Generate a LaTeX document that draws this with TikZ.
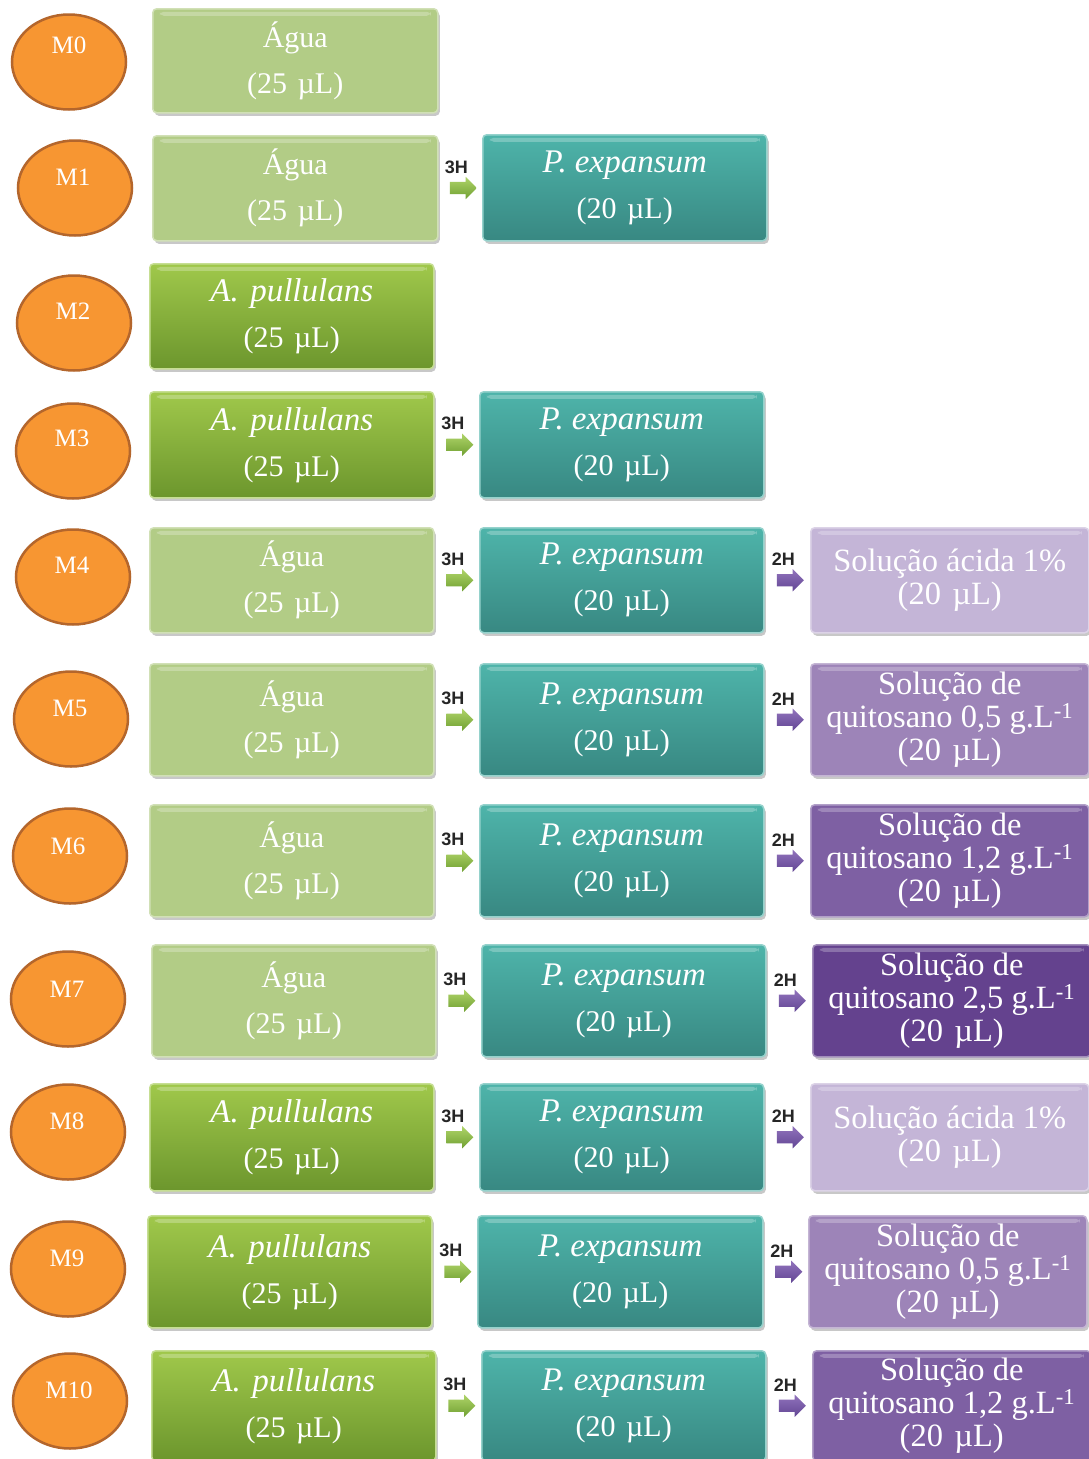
\documentclass[tikz,border=0pt]{standalone}
\usepackage{fontspec}
\setmainfont{Liberation Serif}
\setsansfont{Liberation Sans}
\usetikzlibrary{shapes.arrows,shapes.geometric,shadows,calc}
\definecolor{agua}{RGB}{178,204,134}
\definecolor{pullT}{RGB}{160,200,75}
\definecolor{pullB}{RGB}{108,150,45}
\definecolor{pexpT}{RGB}{78,180,170}
\definecolor{pexpB}{RGB}{56,136,130}
\definecolor{solA}{RGB}{196,181,215}
\definecolor{solB}{RGB}{157,132,184}
\definecolor{solC}{RGB}{126,96,163}
\definecolor{solD}{RGB}{100,66,142}
\definecolor{ellF}{RGB}{247,150,50}
\definecolor{ellD}{RGB}{180,102,44}
\definecolor{arrGT}{RGB}{175,212,105}
\definecolor{arrGB}{RGB}{112,160,50}
\definecolor{arrVT}{RGB}{145,115,188}
\definecolor{arrVB}{RGB}{98,70,148}
\tikzset{
  geo/.style n args={4}{at={(#1,#2)}, anchor=north west,
     minimum width={(#3)-(#1)}, minimum height={(#4)-(#2)}},
  box/.style={rectangle, rounded corners=4pt, inner sep=0pt, align=center,
     text=white, font=\fontsize{30}{46}\selectfont, line width=1.5pt,
     drop shadow={shadow xshift=2pt, shadow yshift=-3pt, opacity=0.3, fill=black!70},
     path picture={\fill[white,opacity=0.25]
        ([xshift=7pt,yshift=-3pt]path picture bounding box.north west) rectangle
        ([xshift=-7pt,yshift=-7pt]path picture bounding box.north east);}},
  aguabox/.style={box, fill=agua, draw=agua!60!white},
  pullbox/.style={box, top color=pullT, bottom color=pullB, draw=pullT!60!white},
  pexpbox/.style={box, top color=pexpT, bottom color=pexpB, draw=pexpT!60!white},
  solbox/.style={box, fill=#1, draw=#1!60!white, font=\fontsize{32.5}{33}\selectfont},
  ell/.style={ellipse, minimum width=114pt, minimum height=95pt, fill=ellF,
     draw=ellD, line width=2.5pt},
  etext/.style={text=white, font=\fontsize{25}{25}\selectfont, inner sep=0pt},
  arrowbase/.style={single arrow, single arrow head extend=5pt,
     single arrow head indent=0pt, minimum height=27pt, minimum width=22pt,
     inner xsep=0pt, inner ysep=6pt},
  garrow/.style={arrowbase, top color=arrGT, bottom color=arrGB,
     label={[hlab]above:3H}},
  varrow/.style={arrowbase, top color=arrVT, bottom color=arrVB,
     label={[hlab]above:2H}},
  hlab/.style={font=\sffamily\bfseries\fontsize{18}{18}\selectfont, text=black!85,
     inner sep=0pt, yshift=8pt, xshift=-4pt},
}
\newcommand{\agua}{Água\\(25\hspace{0.35em}µL)}
\newcommand{\pull}{{\fontsize{33}{46}\selectfont\itshape A.\hspace{0.35em}pullulans}\\(25\hspace{0.35em}µL)}
\newcommand{\pexp}{{\fontsize{33}{46}\selectfont\itshape P.\hspace{0.25em}expansum}\\(20\hspace{0.35em}µL)}
\newcommand{\solac}{Solução ácida 1\%\\(20\hspace{0.35em}µL)}
\newcommand{\solq}[1]{Solução de\\quitosano #1 g.L\textsuperscript{-1}\\(20\hspace{0.35em}µL)}
\begin{document}
\begin{tikzpicture}[x=1pt,y=-1pt]
\useasboundingbox (0,0) rectangle (1089,1459);
\fill[white] (0,0) rectangle (1089,1459);
% ellipses
\node[ell] (e0) at (69,62) {};   \node[etext] (t0) at (69,45) {M0};
\node[ell] (e1) at (75,188) {};  \node[etext] (t1) at (73,177) {M1};
\node[ell] (e2) at (74,323) {};  \node[etext] (t2) at (73,311) {M2};
\node[ell] (e3) at (73,451) {};  \node[etext] (t3) at (72,438) {M3};
\node[ell] (e4) at (73,577) {};  \node[etext] (t4) at (72,565) {M4};
\node[ell] (e5) at (71,719) {};  \node[etext] (t5) at (70,708) {M5};
\node[ell] (e6) at (70,856) {};  \node[etext] (t6) at (68,846) {M6};
\node[ell] (e7) at (68,999) {};  \node[etext] (t7) at (67,989) {M7};
\node[ell] (e8) at (68,1132) {}; \node[etext] (t8) at (67,1121) {M8};
\node[ell] (e9) at (68,1269) {}; \node[etext] (t9) at (67,1258) {M9};
\node[ell] (e10) at (70,1401) {};\node[etext] (t10) at (69,1390) {M10};
% row M0
\node[aguabox, geo={152}{8}{437}{112}] (a0) {\agua};
% row M1
\node[aguabox, geo={152}{135}{437}{240}] (a1) {\agua};
\node[pexpbox, geo={482}{134}{766}{240}] (p1) {\pexp};
% row M2
\node[pullbox, geo={149}{263}{433}{368}] (a2) {\pull};
% row M3
\node[pullbox, geo={149}{391}{433}{497}] (a3) {\pull};
\node[pexpbox, geo={479}{391}{763}{497}] (p3) {\pexp};
% row M4
\node[aguabox, geo={149}{527}{433}{632}] (a4) {\agua};
\node[pexpbox, geo={479}{527}{763}{632}] (p4) {\pexp};
\node[solbox=solA, geo={810}{527}{1088}{632}] (s4) {\solac};
% row M5
\node[aguabox, geo={149}{663}{433}{775}] (a5) {\agua};
\node[pexpbox, geo={479}{663}{763}{775}] (p5) {\pexp};
\node[solbox=solB, geo={810}{663}{1088}{775}] (s5) {\solq{0,5}};
% row M6
\node[aguabox, geo={149}{804}{433}{916}] (a6) {\agua};
\node[pexpbox, geo={479}{804}{763}{916}] (p6) {\pexp};
\node[solbox=solC, geo={810}{804}{1088}{916}] (s6) {\solq{1,2}};
% row M7
\node[aguabox, geo={151}{944}{435}{1056}] (a7) {\agua};
\node[pexpbox, geo={481}{944}{765}{1056}] (p7) {\pexp};
\node[solbox=solD, geo={812}{944}{1090}{1056}] (s7) {\solq{2,5}};
% row M8
\node[pullbox, geo={149}{1083}{433}{1190}] (a8) {\pull};
\node[pexpbox, geo={479}{1083}{763}{1190}] (p8) {\pexp};
\node[solbox=solA, geo={810}{1083}{1088}{1190}] (s8) {\solac};
% row M9
\node[pullbox, geo={147}{1215}{431}{1327}] (a9) {\pull};
\node[pexpbox, geo={477}{1215}{762}{1327}] (p9) {\pexp};
\node[solbox=solB, geo={808}{1215}{1086}{1327}] (s9) {\solq{0,5}};
% row M10
\node[pullbox, geo={151}{1350}{435}{1460}] (a10) {\pull};
\node[pexpbox, geo={481}{1350}{765}{1460}] (p10) {\pexp};
\node[solbox=solC, geo={812}{1350}{1090}{1460}] (s10) {\solq{1,2}};
% block arrows
\node[garrow] (g1) at ($(a1.east)!0.5!(p1.west)$) {};
\node[garrow] (g3) at ($(a3.east)!0.5!(p3.west)$) {};
\node[garrow] (g4) at ($(a4.east)!0.5!(p4.west)$) {};
\node[garrow] (g5) at ($(a5.east)!0.5!(p5.west)$) {};
\node[garrow] (g6) at ($(a6.east)!0.5!(p6.west)$) {};
\node[garrow] (g7) at ($(a7.east)!0.5!(p7.west)$) {};
\node[garrow] (g8) at ($(a8.east)!0.5!(p8.west)$) {};
\node[garrow] (g9) at ($(a9.east)!0.5!(p9.west)$) {};
\node[garrow] (g10) at ($(a10.east)!0.5!(p10.west)$) {};
\node[varrow] (v4) at ($(p4.east)!0.5!(s4.west)$) {};
\node[varrow] (v5) at ($(p5.east)!0.5!(s5.west)$) {};
\node[varrow] (v6) at ($(p6.east)!0.5!(s6.west)$) {};
\node[varrow] (v7) at ($(p7.east)!0.5!(s7.west)$) {};
\node[varrow] (v8) at ($(p8.east)!0.5!(s8.west)$) {};
\node[varrow] (v9) at ($(p9.east)!0.5!(s9.west)$) {};
\node[varrow] (v10) at ($(p10.east)!0.5!(s10.west)$) {};
\end{tikzpicture}
\end{document}
